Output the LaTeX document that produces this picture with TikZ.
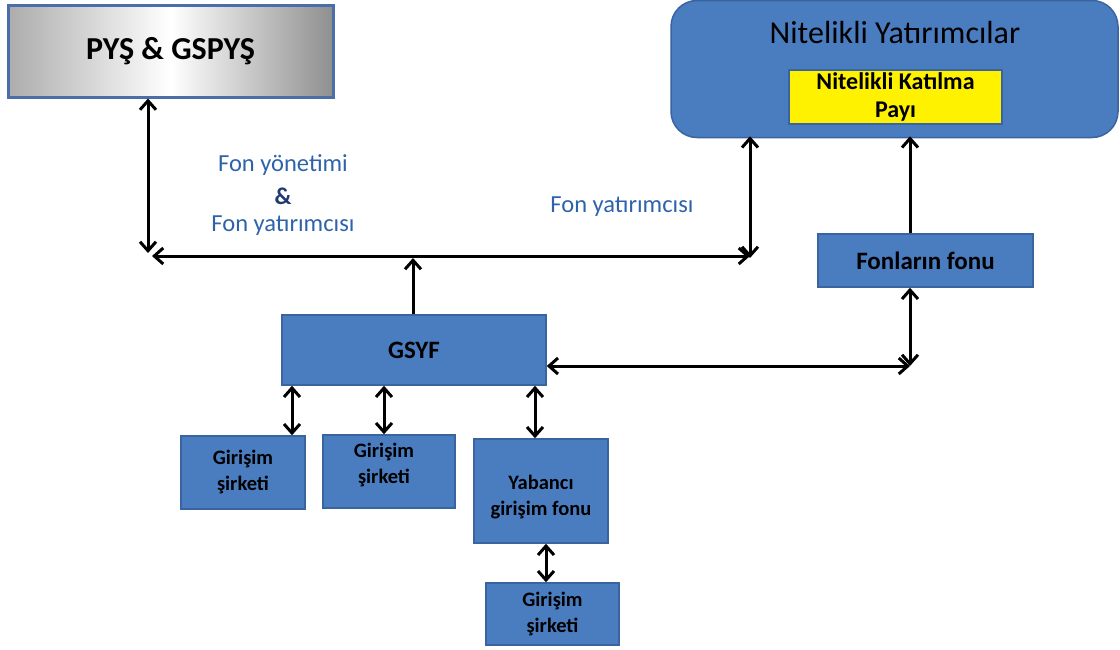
\documentclass[tikz,border=0pt]{standalone}
\usepackage{fontspec}
\setmainfont{Carlito}
\usetikzlibrary{arrows.meta}
\definecolor{boxblue}{HTML}{4A7CC0}
\definecolor{boxedge}{HTML}{3A64A0}
\definecolor{labelblue}{HTML}{2E63AA}
\definecolor{ampblue}{HTML}{1F3A6E}
\definecolor{pysedge}{HTML}{4A6FA8}
\tikzset{
  bluebox/.style={draw=boxedge, line width=1.5pt, fill=boxblue, inner sep=0pt,
    font=\bfseries, text=black, align=center},
  link/.style={line width=3pt, draw=black},
  tip/.tip={Straight Barb[length=9pt, width=16pt]},
  both/.style={link, tip-tip},
  fwd/.style={link, -tip},
  lbl/.style={text=labelblue, font=\fontsize{24.5}{29}\selectfont, align=center},
  bigbold/.style={font=\fontsize{25}{30}\selectfont\bfseries},
  smallbold/.style={font=\fontsize{20.5}{26}\selectfont\bfseries},
}
\begin{document}
\begin{tikzpicture}[x=1pt, y=-1pt]
\useasboundingbox (0,0) rectangle (1120,649);

% top-left management box
\node[draw=pysedge, line width=3pt, minimum width=325pt, minimum height=92pt,
      left color=gray!65, right color=gray!88, middle color=white,
      font=\fontsize{32}{38}\selectfont\bfseries] (pys) at (170.5,51) {PYŞ \& GSPYŞ};

% qualified investors
\node[draw=boxedge, line width=1.5pt, fill=boxblue, rounded corners=26pt,
      minimum width=447pt, minimum height=137pt] (ny) at (894.5,69) {};
\node[font=\fontsize{32}{38}\selectfont] (nyt) at (895,33) {Nitelikli Yatırımcılar};
\node[draw=boxedge, line width=1.2pt, fill=yellow, minimum width=213pt, minimum height=54pt,
      inner sep=0pt, align=center, font=\fontsize{24}{27.5}\selectfont\bfseries] (pay) at (895.5,97)
      {Nitelikli Katılma\\Payı};

\node[bluebox, minimum width=215pt, minimum height=53pt, bigbold]
  (ff) at (925.5,260.5) {Fonların fonu};
\node[bluebox, minimum width=264pt, minimum height=70pt, bigbold]
  (gsyf) at (414,350) {GSYF};

\node[bluebox, minimum width=124pt, minimum height=73pt, smallbold]
  (g1) at (243,472.5) {Girişim\\şirketi};
\node[bluebox, minimum width=132pt, minimum height=73pt] (g2) at (389,471.5) {};
\node[smallbold, align=center] (g2t) at (384,465) {Girişim\\şirketi};
\node[bluebox, minimum width=134pt, minimum height=104pt] (yf) at (541,491) {};
\node[smallbold, align=center] (yft) at (541,497) {Yabancı\\girişim fonu};
\node[bluebox, minimum width=133pt, minimum height=62pt, smallbold]
  (g3) at (552.5,614) {Girişim\\şirketi};

% labels
\node[lbl] (l1) at (283,165) {Fon yönetimi};
\node[lbl, text=ampblue, font=\fontsize{24}{28}\selectfont\bfseries] (l2) at (283,196) {\&};
\node[lbl] (l3) at (283,226) {Fon yatırımcısı};
\node[lbl] (l4) at (622,207) {Fon yatırımcısı};

% connector points
\coordinate (pl) at (148,253);
\coordinate (hl) at (152,256);
\coordinate (hr) at (750,256);
\coordinate (vr) at (750,258);
\coordinate (gu) at (413,258);
\coordinate (rc) at (910,366);
\coordinate (a1) at (292,0);
\coordinate (a2) at (384,0);
\coordinate (a3) at (535,0);
\coordinate (a4) at (546,0);

\draw[both] (pys.south -| pl) -- (pl);
\draw[both] (hl) -- (hr);
\draw[both] (vr) -- ([yshift=2pt]ny.south -| vr);
\draw[fwd] (gsyf.north -| gu) -- (gu);
\draw[both] (gsyf.east |- rc) -- (rc);
\draw[both] (ff.south -| rc) -- (rc);
\draw[fwd] (ff.north -| rc) -- ([yshift=2pt]ny.south -| rc);
\draw[both] (gsyf.south -| a1) -- (g1.north -| a1);
\draw[both] (gsyf.south -| a2) -- (g2.north -| a2);
\draw[both] (gsyf.south -| a3) -- (yf.north -| a3);
\draw[both] (yf.south -| a4) -- (g3.north -| a4);
\end{tikzpicture}
\end{document}
